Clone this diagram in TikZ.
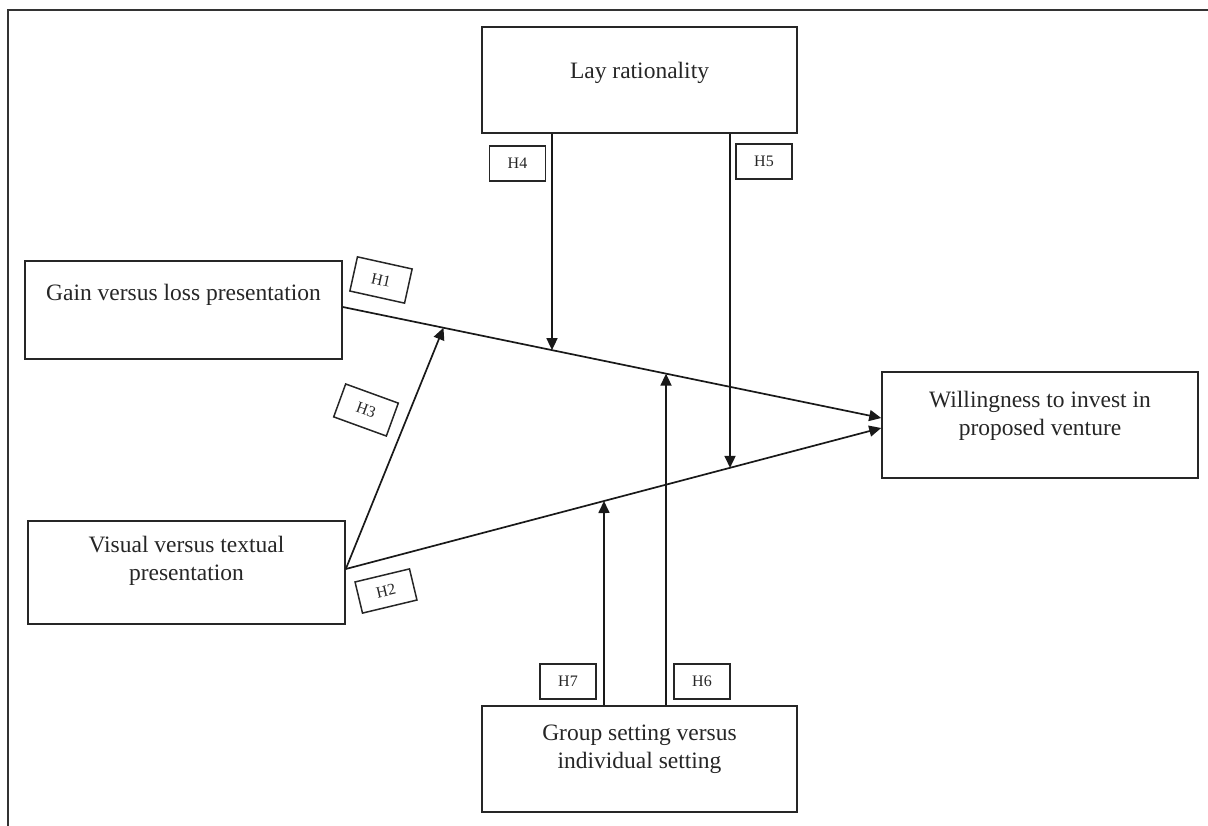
\documentclass[tikz,border=0pt]{standalone}
\usepackage{fontspec}
\setmainfont{Liberation Serif}
\usetikzlibrary{arrows.meta,calc}
\begin{document}
\begin{tikzpicture}[x=1pt,y=-1pt,
  boxstyle/.style={draw=black!85, line width=1.6pt, rectangle, inner sep=0pt},
  bigtext/.style={font=\fontsize{23.5}{28}\selectfont, align=center, inner sep=0pt, text=black!85},
  hbox/.style={draw=black!85, line width=1.5pt, rectangle, inner sep=0pt, minimum width=56pt, minimum height=35pt, font=\fontsize{16}{19}\selectfont, text=black!85},
  conn/.style={line width=1.7pt, draw=black!90},
  arr/.style={conn, -{Triangle[length=12pt,width=11pt]}}
]
\useasboundingbox (0,0) rectangle (1208,826);
% outer frame
\draw[line width=2.5pt, draw=black!80] (8,826) -- (8,10) -- (1208,10);

% main boxes
\node[boxstyle, minimum width=315pt, minimum height=106pt] (lay) at (639.5,80) {};
\node[bigtext] (laytxt) at (639.5,73) {Lay rationality};

\node[boxstyle, minimum width=317pt, minimum height=98pt] (gain) at (183.5,310) {};
\node[bigtext] (gaintxt) at (183.5,295) {Gain versus loss presentation};

\node[boxstyle, minimum width=317pt, minimum height=103pt] (visual) at (186.5,572.5) {};
\node[bigtext] (visualtxt) at (186.5,561) {Visual versus textual\\presentation};

\node[boxstyle, minimum width=316pt, minimum height=106pt] (will) at (1040,425) {};
\node[bigtext] (willtxt) at (1040,416) {Willingness to invest in\\proposed venture};

\node[boxstyle, minimum width=315pt, minimum height=106pt] (group) at (639.5,759) {};
\node[bigtext] (grouptxt) at (639.5,749) {Group setting versus\\individual setting};

% hypothesis labels
\node[hbox] (h4) at (517.5,163.5) {H4};
\node[hbox] (h5) at (764,161.5) {H5};
\node[hbox] (h7) at (568,681.5) {H7};
\node[hbox] (h6) at (702,681.5) {H6};
\node[hbox, rotate=-12.5] (h1) at (381,280) {H1};
\node[hbox, rotate=-20] (h3) at (366,410) {H3};
\node[hbox, rotate=13.5, minimum height=32pt] (h2) at (386,591) {H2};

% main paths
\coordinate (l1s) at ($(gain.east)+(0,-3)$);
\coordinate (l1e) at ($(will.west)+(0,-7)$);
\coordinate (l2s) at ($(visual.east)+(0,-3.5)$);
\coordinate (l2e) at ($(will.west)+(0,3)$);
\draw[arr] (l1s) -- (l1e);
\draw[arr] (l2s) -- (l2e);

% H3 moderation from visual to line 1
\coordinate (p3) at ($(l1s)!0.187!(l1e)$);
\draw[arr] (l2s) -- (p3);

% H4, H5 from lay rationality
\coordinate (t4) at (552,0 |- lay.south);
\coordinate (t5) at (730,0 |- lay.south);
\coordinate (p4) at (intersection of l1s--l1e and t4--552,900);
\coordinate (p5) at (intersection of l2s--l2e and t5--730,900);
\draw[arr] (t4) -- (p4);
\draw[arr] (t5) -- (p5);

% H6, H7 from group setting
\coordinate (t6) at (666,0 |- group.north);
\coordinate (t7) at (604,0 |- group.north);
\coordinate (p6) at (intersection of l1s--l1e and t6--666,0);
\coordinate (p7) at (intersection of l2s--l2e and t7--604,0);
\draw[arr] (t6) -- (p6);
\draw[arr] (t7) -- (p7);
\end{tikzpicture}
\end{document}
